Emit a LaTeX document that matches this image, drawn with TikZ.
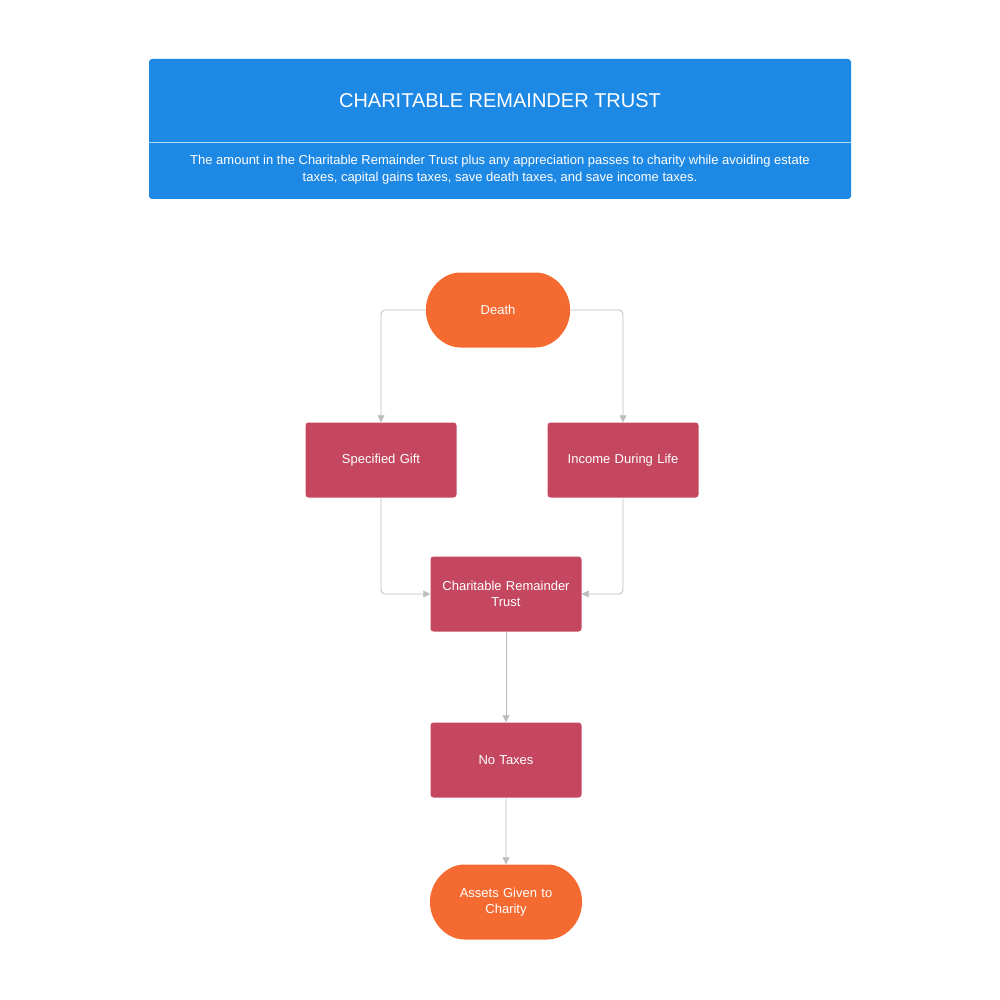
\documentclass[tikz,border=0pt]{standalone}
\usepackage{fontspec}
\setmainfont{Liberation Sans}
\usetikzlibrary{arrows.meta,shapes.misc}
\definecolor{hblue}{HTML}{1E88E5}
\definecolor{term}{HTML}{F46A30}
\definecolor{proc}{HTML}{C4475F}
\definecolor{lnk}{HTML}{BDBDBD}
\begin{document}
\begin{tikzpicture}[x=1pt,y=-1pt,
  box/.style={draw=none,fill=proc,text=white,minimum width=151pt,minimum height=75pt,rounded corners=3pt,align=center,text width=140pt,font=\fontsize{13}{16}\selectfont},
  term/.style={box,fill=term,rounded rectangle},
  con/.style={draw=lnk,line width=0.8pt,rounded corners=4pt,-{Triangle[length=7pt,width=7pt]}}]
\useasboundingbox (0,0) rectangle (1000,1000);
\fill[hblue,rounded corners=3pt] (149,59) rectangle (851,199);
\draw[white!70!hblue,line width=0.8pt] (149,142) -- (851,142);
\node[text=white,font=\fontsize{20}{24}\selectfont] (title) at (500,101) {CHARITABLE REMAINDER TRUST};
\node[text=white,align=center,font=\fontsize{13}{17}\selectfont] (sub) at (500,170) {The amount in the Charitable Remainder Trust plus any appreciation passes to charity while avoiding estate\\taxes, capital gains taxes, save death taxes, and save income taxes.};
\node[term] (death) at (498,310) {Death};
\node[box] (gift) at (381,460) {Specified Gift};
\node[box] (inc) at (623,460) {Income During Life};
\node[box] (crt) at (506,594) {Charitable Remainder\\Trust};
\node[box] (nt) at (506,760) {No Taxes};
\node[term] (as) at (506,902) {Assets Given to\\Charity};
\draw[con] (death.west) -| (gift.north);
\draw[con] (death.east) -| (inc.north);
\draw[con] (gift.south) |- (crt.west);
\draw[con] (inc.south) |- (crt.east);
\draw[con] (crt) -- (nt);
\draw[con] (nt) -- (as);
\end{tikzpicture}
\end{document}
